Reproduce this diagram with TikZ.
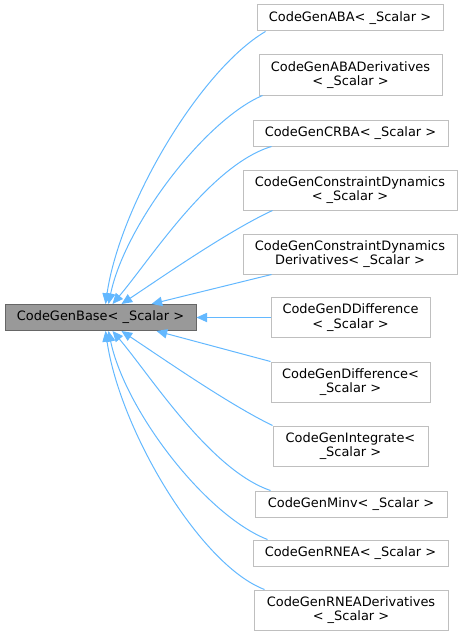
\documentclass[tikz,border=0pt]{standalone}
\usepackage{fontspec}
\setmainfont{DejaVu Sans}
\usetikzlibrary{arrows.meta,calc}
\definecolor{edgeblue}{HTML}{63B8FF}
\definecolor{basefill}{HTML}{999999}
\definecolor{baseline}{HTML}{666666}
\definecolor{boxline}{HTML}{BFBFBF}
\tikzset{
  cls/.style={draw=boxline, fill=white, line width=0.75pt, align=center, inner sep=0pt,
    font=\fontsize{9.7}{10.7}\selectfont, minimum height=#1*0.75pt},
  cls/.default=26,
  wd/.style={minimum width=#1*0.75pt},
  edge/.style={draw=edgeblue, line width=0.75pt, -{Triangle[length=8pt,width=7pt]}}
}
\begin{document}
\begin{tikzpicture}[x=0.75pt,y=-0.75pt]
    \useasboundingbox (0,0) rectangle (463,635);
    \node[cls, wd=191, draw=baseline, fill=basefill] (base) at (100.5,317.5) {CodeGenBase< \_Scalar >};
    \node[cls, wd=186] (aba) at (350,18) {CodeGenABA< \_Scalar >};
    \node[cls=40, wd=183] (abad) at (350.5,75) {CodeGenABADerivatives\\< \_Scalar >};
    \node[cls, wd=195] (crba) at (350.5,133) {CodeGenCRBA< \_Scalar >};
    \node[cls=40, wd=214] (cd) at (350,190) {CodeGenConstraintDynamics\\< \_Scalar >};
    \node[cls=40, wd=214] (cdd) at (350,254) {CodeGenConstraintDynamics\\Derivatives< \_Scalar >};
    \node[cls=40, wd=159] (ddiff) at (350.5,317.5) {CodeGenDDifference\\< \_Scalar >};
    \node[cls=40, wd=159] (diff) at (350.5,382) {CodeGenDifference<\\\_Scalar >};
    \node[cls=40, wd=155] (integ) at (350.5,446) {CodeGenIntegrate<\\\_Scalar >};
    \node[cls, wd=192] (minv) at (351,504) {CodeGenMinv< \_Scalar >};
    \node[cls, wd=195] (rnea) at (350.5,553) {CodeGenRNEA< \_Scalar >};
    \node[cls=40, wd=194] (rnead) at (351,610) {CodeGenRNEADerivatives\\< \_Scalar >};
    \draw[edge] ($(aba.south west)+(9,0)$) .. controls (200,70) and (120,205) .. ($(base.north)+(5,0)$);
    \draw[edge] ($(abad.south west)+(4,0)$) .. controls (205,120) and (125,225) .. ($(base.north)+(8,0)$);
    \draw[edge] ($(crba.south west)+(19,0)$) .. controls (210,165) and (150,260) .. ($(base.north)+(12,0)$);
    \draw[edge] ($(cd.south west)+(30,0)$) .. controls (230,230) and (165,275) .. ($(base.north)+(21,0)$);
    \draw[edge] ($(cdd.south west)+(29,0)$) -- ($(base.north)+(51,0)$);
    \draw[edge] (ddiff.west) -- (base.east);
    \draw[edge] (diff.north west) -- ($(base.south)+(56,0)$);
    \draw[edge] (integ.north west) .. controls (230,405) and (165,360) .. ($(base.south)+(21,0)$);
    \draw[edge] ($(minv.north west)+(16,0)$) .. controls (210,470) and (150,375) .. ($(base.south)+(12,0)$);
    \draw[edge] ($(rnea.north west)+(15,0)$) .. controls (205,515) and (125,410) .. ($(base.south)+(8,0)$);
    \draw[edge] ($(rnead.north west)+(11,0)$) .. controls (200,565) and (120,430) .. ($(base.south)+(5,0)$);
\end{tikzpicture}
\end{document}
